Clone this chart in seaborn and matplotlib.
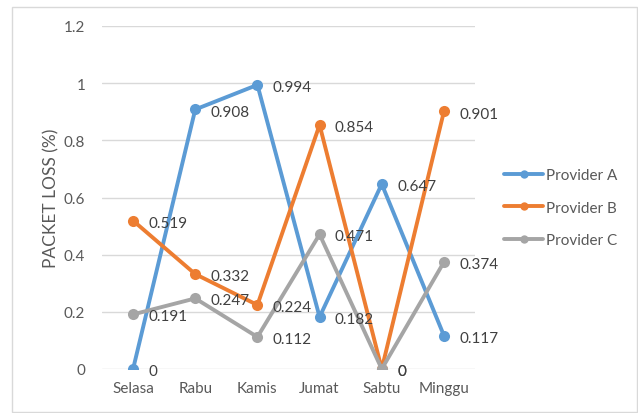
import pandas as pd
import matplotlib
matplotlib.use("Agg")
import matplotlib.pyplot as plt
import seaborn as sns
from matplotlib.patches import Rectangle

# Data
days = ["Selasa", "Rabu", "Kamis", "Jumat", "Sabtu", "Minggu"]
provider_a = [0, 0.908, 0.994, 0.182, 0.647, 0.117]
provider_b = [0.519, 0.332, 0.224, 0.854, 0, 0.901]
provider_c = [0.191, 0.247, 0.112, 0.471, 0, 0.374]
series_names = ["Provider A", "Provider B", "Provider C"]
y_ticks = [0, 0.2, 0.4, 0.6, 0.8, 1, 1.2]
y_tick_labels = ["0", "0.2", "0.4", "0.6", "0.8", "1", "1.2"]

colors = ["#5B9BD5", "#ED7D31", "#A5A5A5"]

sns.set_theme(style="white")
plt.rcParams['font.family'] = ['Lato', 'DejaVu Sans']

rows = []
for name, vals in zip(series_names, [provider_a, provider_b, provider_c]):
    for i, (d, v) in enumerate(zip(days, vals)):
        rows.append({"day": d, "pos": i, "value": v, "provider": name})
df = pd.DataFrame(rows)

fig = plt.figure(figsize=(6.38, 4.14), dpi=100)
ax = fig.add_axes([102 / 638, 1 - 370 / 414, (475 - 102) / 638, (370 - 27) / 414])

sns.lineplot(data=df, x="pos", y="value", hue="provider", palette=colors,
             marker="o", markersize=8, markeredgewidth=0, linewidth=2.8,
             dashes=False, ax=ax, legend=True)

# data labels
for name, vals in zip(series_names, [provider_a, provider_b, provider_c]):
    for i, v in enumerate(vals):
        ax.annotate(f"{v:g}", (i, v), xytext=(11, -1.5), textcoords="offset points",
                    ha="left", va="center", fontsize=11, color="#404040")

ax.set_xlim(-0.5, 5.5)
ax.set_ylim(0, 1.2)
ax.set_xticks(range(len(days)))
ax.set_xticklabels(days, fontsize=11, color="#595959")
ax.set_yticks(y_ticks)
ax.set_yticklabels(y_tick_labels, fontsize=11, color="#595959")
ax.tick_params(axis="x", length=0, pad=9)
ax.tick_params(axis="y", length=0, pad=12)
ax.yaxis.grid(True, color="#D9D9D9", linewidth=1)
ax.set_axisbelow(True)
for s in ax.spines.values():
    s.set_visible(False)
ax.set_xlabel("")
ax.set_ylabel("PACKET LOSS (%)", fontsize=12.5, color="#595959", labelpad=3)

handles, labels = ax.get_legend_handles_labels()
for h in handles:
    h.set_markersize(6)
ax.legend(handles, labels, loc="center left", bbox_to_anchor=(1.04, 0.47),
          frameon=False, fontsize=11, handlelength=2.6, handletextpad=0.15,
          labelspacing=1.2, labelcolor="#595959")

fig.patches.append(Rectangle((12 / 638, 1 / 414), 625 / 638, 405 / 414,
                             transform=fig.transFigure, fill=False,
                             edgecolor="#D9D9D9", linewidth=1))

fig.savefig("out.png", dpi=100, facecolor="white")
